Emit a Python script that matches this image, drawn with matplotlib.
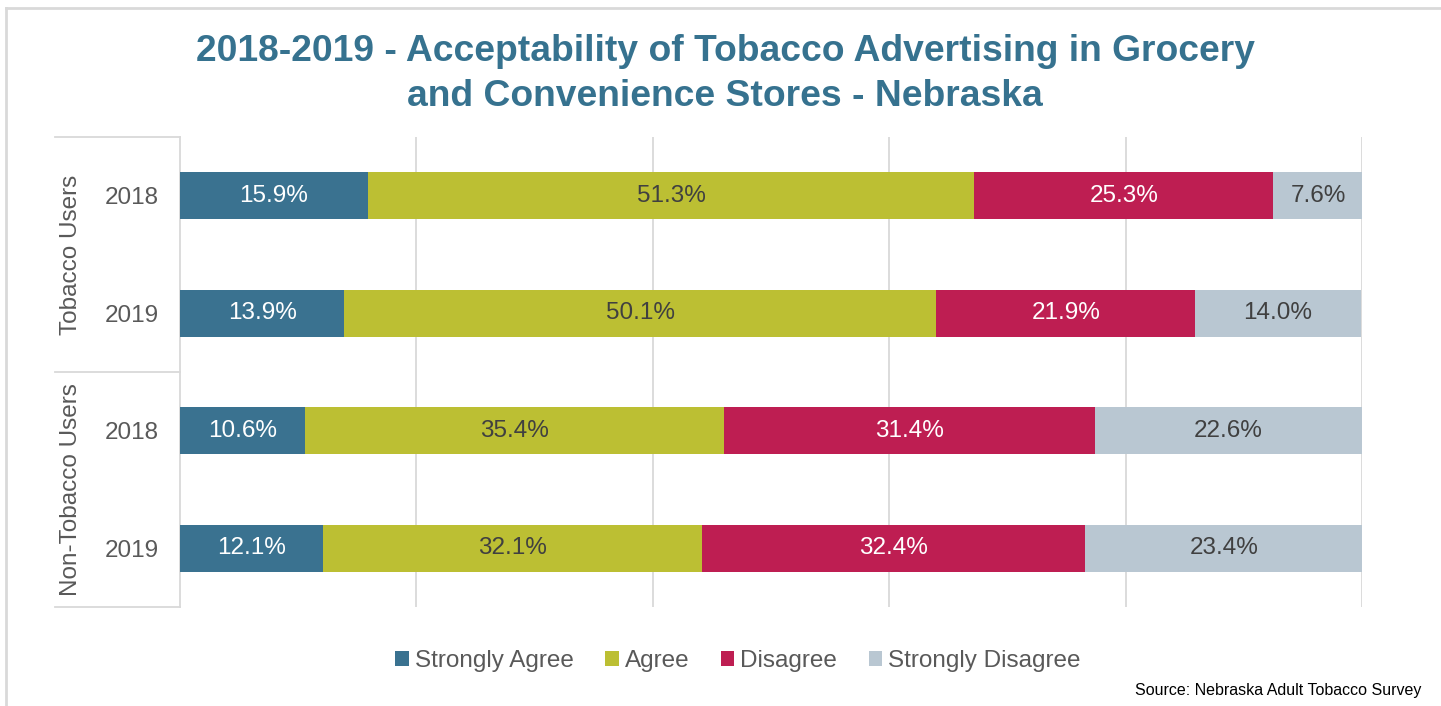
import matplotlib.pyplot as plt
import numpy as np
from matplotlib.lines import Line2D
from matplotlib.patches import Patch

plt.rcParams['font.family'] = ['Liberation Sans', 'DejaVu Sans']

# data
groups = ["Tobacco Users", "Non-Tobacco Users"]
years = ["2018", "2019", "2018", "2019"]
categories = ["Strongly Agree", "Agree", "Disagree", "Strongly Disagree"]
strongly_agree = [15.9, 13.9, 10.6, 12.1]
agree = [51.3, 50.1, 35.4, 32.1]
disagree = [25.3, 21.9, 31.4, 32.4]
strongly_disagree = [7.6, 14.0, 22.6, 23.4]

colors = ['#3A7290', '#BCBF33', '#BE1E52', '#B9C7D2']
text_colors = ['white', '#404040', 'white', '#404040']
grid_c = '#D9D9D9'
gray = '#595959'
fs = 17.5

fig = plt.figure(figsize=(14.41, 7.06), dpi=100)
ax = fig.add_axes([180 / 1441, 1 - 607 / 706, 1182 / 1441, 470 / 706])

series = [strongly_agree, agree, disagree, strongly_disagree]
y = np.arange(len(years))
left = np.zeros(len(years))
for vals, c, tc in zip(series, colors, text_colors):
    vals = np.array(vals)
    bars = ax.barh(y, vals, left=left, height=0.4, color=c, zorder=3)
    for b, v in zip(bars, vals):
        ax.text(b.get_x() + b.get_width() / 2, b.get_y() + b.get_height() / 2,
                f"{v:.1f}%", ha='center', va='center', color=tc, fontsize=fs, zorder=4)
    left += vals

ax.set_xlim(0, 100)
ax.set_ylim(3.5, -0.5)
ax.set_xticks([20, 40, 60, 80, 100])
ax.set_xticklabels([])
ax.tick_params(axis='x', length=0)
ax.grid(axis='x', color=grid_c, linewidth=1.3, zorder=0)
ax.set_yticks(y)
ax.set_yticklabels(years, fontsize=fs, color=gray)
ax.tick_params(axis='y', length=0, pad=15)
for s in ['top', 'right', 'bottom']:
    ax.spines[s].set_visible(False)
ax.spines['left'].set_color(grid_c)
ax.spines['left'].set_linewidth(1.3)

# group brackets
trans = ax.get_yaxis_transform()
for yy in [-0.5, 1.5, 3.5]:
    ax.add_line(Line2D([-0.106, 0], [yy, yy], transform=trans, color=grid_c,
                       linewidth=1.3, clip_on=False))
ax.text(-0.092, 0.5, groups[0], transform=trans, rotation=90, ha='center', va='center',
        fontsize=fs, color=gray)
ax.text(-0.092, 2.5, groups[1], transform=trans, rotation=90, ha='center', va='center',
        fontsize=fs, color=gray)

fig.text(725 / 1441, 1 - 74 / 706,
         "2018-2019 - Acceptability of Tobacco Advertising in Grocery\nand Convenience Stores - Nebraska",
         ha='center', va='center', fontsize=26.8, fontweight='bold', color='#36728F',
         linespacing=1.38)

handles = [Patch(facecolor=c, edgecolor='none') for c in colors]
fig.legend(handles, categories, loc='center', bbox_to_anchor=(738 / 1441, 1 - 661 / 706),
           ncol=4, frameon=False, fontsize=fs, handlelength=0.55, handleheight=0.55,
           handletextpad=0.25, columnspacing=1.3, labelcolor=gray)

fig.text(1421 / 1441, 1 - 691 / 706, "Source: Nebraska Adult Tobacco Survey",
         ha='right', va='center', fontsize=11.5, color='black')

# chart frame
fig.add_artist(Line2D([6 / 1441, 6 / 1441], [0, 1 - 8 / 706], transform=fig.transFigure,
                      color=grid_c, linewidth=2))
fig.add_artist(Line2D([6 / 1441, 1], [1 - 8 / 706, 1 - 8 / 706], transform=fig.transFigure,
                      color=grid_c, linewidth=2))

fig.savefig('out.png', dpi=100)
